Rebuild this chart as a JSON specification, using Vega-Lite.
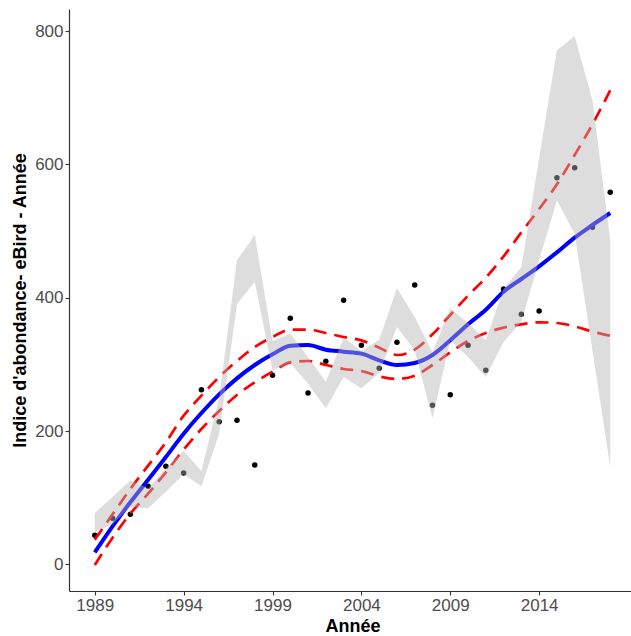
{
  "$schema": "https://vega.github.io/schema/vega-lite/v6.json",
  "autosize": "none",
  "padding": {"left": 69, "top": 9, "right": 0, "bottom": 45},
  "width": 567,
  "height": 582,
  "background": "white",
  "config": {
    "view": {"stroke": null},
    "axis": {
      "grid": false,
      "domainColor": "#333333",
      "domainWidth": 1.2,
      "tickColor": "#333333",
      "tickSize": 4,
      "tickWidth": 1.1,
      "labelColor": "#4d4d4d",
      "labelFont": "Liberation Sans",
      "labelFontSize": 17,
      "titleFont": "Liberation Sans",
      "titleFontSize": 18,
      "titleFontWeight": "bold",
      "titleColor": "#000000",
      "labelPadding": 2
    }
  },
  "data": {
    "values": [
      {"annee": 1989, "indice": 43.5, "fit": 18, "hi": 37, "lo": -1, "rlo": 49, "rhi": 77},
      {"annee": 1990, "indice": 69, "fit": 57, "hi": 75, "lo": 40, "rlo": 60, "rhi": 101},
      {"annee": 1991, "indice": 75, "fit": 93, "hi": 113, "lo": 76, "rlo": 86, "rhi": 126},
      {"annee": 1992, "indice": 117, "fit": 127, "hi": 148, "lo": 106, "rlo": 84, "rhi": 114},
      {"annee": 1993, "indice": 147, "fit": 161, "hi": 183, "lo": 138, "rlo": 109, "rhi": 144},
      {"annee": 1994, "indice": 137, "fit": 196, "hi": 223, "lo": 172, "rlo": 135, "rhi": 170},
      {"annee": 1995, "indice": 262, "fit": 227, "hi": 253, "lo": 203, "rlo": 117, "rhi": 140},
      {"annee": 1996, "indice": 214, "fit": 255, "hi": 281, "lo": 230, "rlo": 196, "rhi": 250},
      {"annee": 1997, "indice": 216, "fit": 279, "hi": 305, "lo": 254, "rlo": 390, "rhi": 456},
      {"annee": 1998, "indice": 149, "fit": 299, "hi": 326, "lo": 273, "rlo": 424, "rhi": 494},
      {"annee": 1999, "indice": 283.5, "fit": 315, "hi": 341, "lo": 289, "rlo": 291, "rhi": 335},
      {"annee": 2000, "indice": 369, "fit": 328, "hi": 352, "lo": 303, "rlo": 302, "rhi": 346},
      {"annee": 2001, "indice": 257, "fit": 329, "hi": 352, "lo": 305, "rlo": 271, "rhi": 311},
      {"annee": 2002, "indice": 304.5, "fit": 322, "hi": 347, "lo": 299, "rlo": 234, "rhi": 274},
      {"annee": 2003, "indice": 396, "fit": 319, "hi": 341, "lo": 293, "rlo": 281, "rhi": 340},
      {"annee": 2004, "indice": 328.5, "fit": 316, "hi": 336, "lo": 290, "rlo": 264, "rhi": 320},
      {"annee": 2005, "indice": 294, "fit": 306, "hi": 325, "lo": 282, "rlo": 287, "rhi": 337},
      {"annee": 2006, "indice": 333, "fit": 299, "hi": 314, "lo": 278, "rlo": 356, "rhi": 414},
      {"annee": 2007, "indice": 419, "fit": 302, "hi": 322, "lo": 283, "rlo": 321, "rhi": 371},
      {"annee": 2008, "indice": 238.5, "fit": 314, "hi": 345, "lo": 299, "rlo": 219, "rhi": 318},
      {"annee": 2009, "indice": 254.5, "fit": 336, "hi": 374, "lo": 318, "rlo": 336, "rhi": 384},
      {"annee": 2010, "indice": 328.5, "fit": 360, "hi": 403, "lo": 335, "rlo": 311, "rhi": 362},
      {"annee": 2011, "indice": 291, "fit": 382, "hi": 430, "lo": 347, "rlo": 281, "rhi": 336},
      {"annee": 2012, "indice": 413, "fit": 409, "hi": 462, "lo": 355, "rlo": 334, "rhi": 413},
      {"annee": 2013, "indice": 375, "fit": 428, "hi": 498, "lo": 360, "rlo": 364, "rhi": 446},
      {"annee": 2014, "indice": 380, "fit": 447, "hi": 533, "lo": 363, "rlo": 456, "rhi": 609},
      {"annee": 2015, "indice": 580, "fit": 468, "hi": 570, "lo": 362, "rlo": 546, "rhi": 771},
      {"annee": 2016, "indice": 595, "fit": 490, "hi": 614, "lo": 357, "rlo": 496, "rhi": 792},
      {"annee": 2017, "indice": 505.5, "fit": 509, "hi": 660, "lo": 349, "rlo": 321, "rhi": 696},
      {"annee": 2018, "indice": 558, "fit": 527, "hi": 711, "lo": 343, "rlo": 146, "rhi": 486}
    ]
  },
  "encoding": {
    "x": {
      "field": "annee",
      "type": "quantitative",
      "scale": {"domain": [1987.55, 2019.45], "nice": false, "zero": false},
      "axis": {"title": "Année", "values": [1989, 1994, 1999, 2004, 2009, 2014], "format": "d", "titlePadding": 4}
    }
  },
  "layer": [
    {
      "mark": {"type": "point", "filled": true, "color": "#000000", "size": 30, "opacity": 1},
      "encoding": {
        "y": {
          "field": "indice",
          "type": "quantitative",
          "scale": {"domain": [-40, 833], "nice": false, "zero": false},
          "axis": {"title": "Indice d'abondance- eBird - Année", "values": [0, 200, 400, 600, 800], "titlePadding": 5}
        }
      }
    },
    {
      "mark": {"type": "line", "color": "#0000ff", "strokeWidth": 4, "interpolate": "monotone"},
      "encoding": {"y": {"field": "fit", "type": "quantitative"}}
    },
    {
      "mark": {"type": "line", "color": "#ff0000", "strokeWidth": 2.7, "strokeDash": [13, 8], "interpolate": "monotone"},
      "encoding": {"y": {"field": "hi", "type": "quantitative"}}
    },
    {
      "mark": {"type": "line", "color": "#ff0000", "strokeWidth": 2.7, "strokeDash": [13, 8], "interpolate": "monotone"},
      "encoding": {"y": {"field": "lo", "type": "quantitative"}}
    },
    {
      "mark": {"type": "area", "color": "#b3b3b3", "opacity": 0.45},
      "encoding": {
        "y": {"field": "rlo", "type": "quantitative"},
        "y2": {"field": "rhi"}
      }
    }
  ]
}
